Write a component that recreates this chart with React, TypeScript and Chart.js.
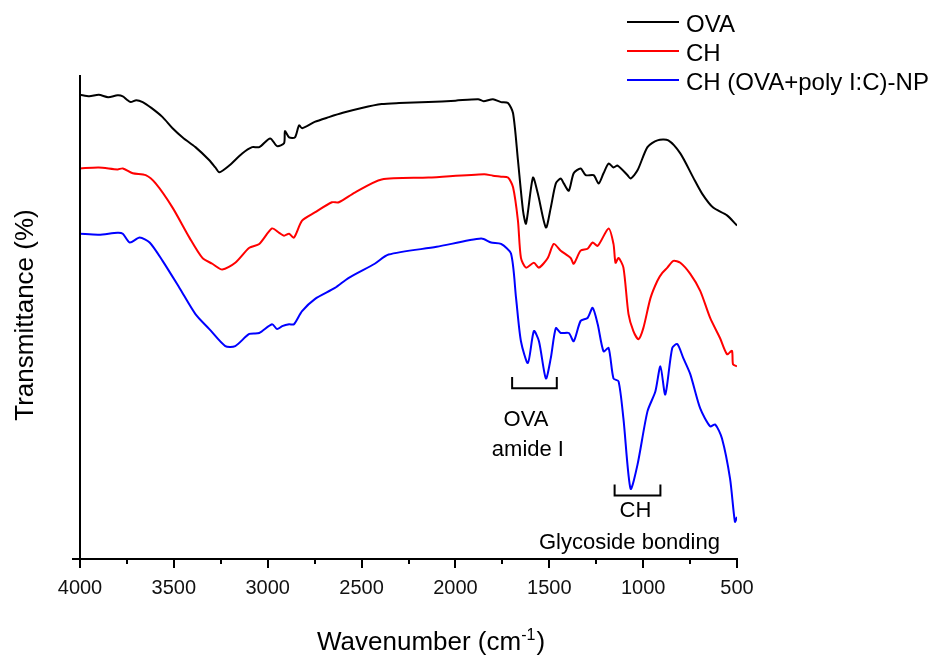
import React, { useEffect, useRef } from 'react';
import { Chart, registerables } from 'chart.js';

Chart.register(...registerables);

const FONT = '"Liberation Sans", Arial, Helvetica, sans-serif';

// ---- Data ----
const seriesNames = ['OVA', 'CH', 'CH (OVA+poly I:C)-NP'];
const seriesColors = ['#000000', '#ff0000', '#0000ff'];

const xTickValues = [4000, 3500, 3000, 2500, 2000, 1500, 1000, 500];
const xTickLabels = ['4000', '3500', '3000', '2500', '2000', '1500', '1000', '500'];
const xMinorTickValues = [3750, 3250, 2750, 2250, 1750, 1250, 750];

const ovaWn = [4000, 3950, 3900, 3850, 3800, 3772, 3750, 3730, 3700, 3666, 3620, 3560, 3507, 3450, 3385, 3311, 3279, 3258, 3205, 3136, 3083, 3045, 2987, 2950, 2913, 2908, 2886, 2855, 2833, 2817, 2750, 2674, 2600, 2499, 2393, 2300, 2144, 2000, 1879, 1850, 1800, 1757, 1720, 1693, 1667, 1640, 1624, 1587, 1561, 1518, 1492, 1465, 1439, 1423, 1396, 1370, 1333, 1306, 1264, 1237, 1211, 1184, 1158, 1136, 1083, 1067, 1030, 977, 924, 866, 802, 733, 686, 627, 553, 500];
const ovaT = [95.9, 95.6, 95.9, 95.4, 95.8, 95.6, 94.9, 94.4, 94.8, 94.4, 93.2, 91.3, 89.0, 87.0, 85.1, 82.4, 80.9, 79.9, 81.3, 83.8, 85.1, 85.1, 86.9, 85.3, 85.9, 88.4, 87.1, 87.1, 89.6, 89.0, 90.3, 91.3, 92.2, 93.2, 94.0, 94.2, 94.4, 94.7, 95.0, 94.6, 95.0, 94.4, 94.2, 92.1, 82.4, 72.0, 69.3, 78.8, 75.5, 68.5, 72.6, 77.6, 78.6, 77.6, 76.1, 79.7, 80.7, 79.3, 79.3, 77.6, 79.7, 81.7, 80.9, 81.3, 79.3, 78.6, 80.3, 85.1, 86.5, 86.5, 83.8, 78.8, 75.5, 72.6, 71.0, 68.9];

const chWn = [4000, 3900, 3800, 3772, 3719, 3650, 3597, 3507, 3417, 3348, 3295, 3242, 3173, 3098, 3045, 2977, 2939, 2913, 2886, 2860, 2817, 2749, 2658, 2621, 2536, 2393, 2144, 1847, 1800, 1757, 1720, 1693, 1667, 1651, 1624, 1582, 1555, 1508, 1476, 1439, 1386, 1370, 1333, 1296, 1269, 1242, 1184, 1158, 1147, 1131, 1105, 1078, 1052, 1025, 999, 961, 924, 898, 871, 839, 802, 749, 696, 643, 590, 553, 527, 521, 500];
const chT = [80.7, 80.9, 80.5, 80.7, 79.7, 79.3, 77.6, 72.6, 66.4, 62.2, 61.0, 59.8, 61.2, 64.3, 65.1, 68.3, 67.4, 66.8, 67.2, 66.4, 69.9, 71.6, 73.7, 73.7, 75.7, 78.4, 78.8, 79.5, 79.2, 79.0, 78.8, 76.8, 69.9, 62.2, 60.2, 61.2, 60.2, 62.2, 65.1, 63.7, 62.2, 61.0, 63.7, 64.1, 65.4, 64.7, 68.3, 65.1, 61.2, 62.2, 60.2, 50.6, 47.1, 45.4, 47.7, 53.9, 57.5, 59.1, 60.2, 61.6, 61.2, 58.9, 55.4, 49.8, 45.6, 42.3, 43.0, 40.2, 39.8];

const npWn = [4000, 3900, 3800, 3772, 3735, 3682, 3629, 3560, 3470, 3385, 3311, 3226, 3173, 3098, 3045, 2977, 2950, 2923, 2886, 2860, 2817, 2749, 2642, 2568, 2430, 2356, 2100, 1863, 1810, 1757, 1704, 1677, 1651, 1614, 1582, 1555, 1518, 1492, 1465, 1439, 1396, 1370, 1333, 1296, 1269, 1242, 1211, 1184, 1158, 1131, 1105, 1067, 1030, 977, 935, 908, 882, 845, 818, 786, 749, 696, 643, 616, 580, 537, 511, 500];
const npT = [67.2, 67.0, 67.4, 67.2, 65.4, 66.4, 65.4, 61.6, 56.0, 50.6, 47.5, 44.0, 44.0, 46.5, 46.7, 48.5, 47.5, 48.1, 48.5, 48.5, 51.2, 53.7, 56.0, 58.1, 61.0, 62.9, 64.5, 66.2, 65.4, 65.1, 63.1, 53.9, 45.0, 40.5, 47.1, 45.0, 37.3, 41.5, 47.7, 46.7, 46.7, 45.0, 49.2, 49.8, 51.9, 48.5, 42.9, 43.6, 37.3, 36.7, 29.0, 14.5, 19.5, 30.5, 34.6, 39.8, 34.0, 43.6, 44.4, 41.5, 38.2, 31.1, 27.4, 27.8, 24.9, 16.6, 7.7, 8.7];

// Annotations (data coordinates: wavenumber, transmittance)
const bracketRanges = [
  { from: 1698, to: 1460, top: 37.6, bottom: 35.3 },
  { from: 1152, to: 908, top: 15.4, bottom: 13.1 },
];
const annotationTexts = [
  { text: 'OVA', x: 1624, y: 27.4 },
  { text: 'amide I', x: 1614, y: 21.2 },
  { text: 'CH', x: 1041, y: 8.7 },
  { text: 'Glycoside bonding', x: 1073, y: 2.1 },
];

const toPoints = (xs: number[], ys: number[]) => xs.map((x, i) => ({ x, y: ys[i] }));

const decorPlugin = {
  id: 'decor',
  afterDraw(chart: any) {
    const ctx: CanvasRenderingContext2D = chart.ctx;
    const { left, right, top, bottom } = chart.chartArea;
    const xs = chart.scales.x;
    const ys = chart.scales.y;
    ctx.save();
    ctx.strokeStyle = '#000';
    ctx.fillStyle = '#000';
    ctx.lineWidth = 2;
    // axes
    ctx.beginPath();
    ctx.moveTo(left, top);
    ctx.lineTo(left, bottom);
    ctx.moveTo(left - 8, bottom);
    ctx.lineTo(right + 1, bottom);
    ctx.stroke();
    // ticks
    ctx.beginPath();
    xTickValues.forEach((v) => {
      const px = Math.round(xs.getPixelForValue(v));
      ctx.moveTo(px, bottom);
      ctx.lineTo(px, bottom + 9);
    });
    xMinorTickValues.forEach((v) => {
      const px = Math.round(xs.getPixelForValue(v));
      ctx.moveTo(px, bottom);
      ctx.lineTo(px, bottom + 5);
    });
    ctx.stroke();

    // y title
    ctx.save();
    ctx.font = `26px ${FONT}`;
    ctx.textAlign = 'center';
    ctx.textBaseline = 'alphabetic';
    ctx.translate(33, (top + bottom) / 2 - 2);
    ctx.rotate(-Math.PI / 2);
    ctx.fillText('Transmittance (%)', 0, 0);
    ctx.restore();

    // x title with superscript
    ctx.textAlign = 'left';
    ctx.textBaseline = 'alphabetic';
    const main = 'Wavenumber (cm';
    const sup = '-1';
    const close = ')';
    ctx.font = `26px ${FONT}`;
    const wMain = ctx.measureText(main).width;
    const wClose = ctx.measureText(close).width;
    ctx.font = `16px ${FONT}`;
    const wSup = ctx.measureText(sup).width;
    const total = wMain + wSup + wClose + 1;
    let tx = 431 - total / 2;
    const by = 650;
    ctx.font = `26px ${FONT}`;
    ctx.fillText(main, tx, by);
    tx += wMain;
    ctx.font = `16px ${FONT}`;
    ctx.fillText(sup, tx, by - 10);
    tx += wSup + 1;
    ctx.font = `26px ${FONT}`;
    ctx.fillText(close, tx, by);

    // legend
    ctx.font = `24px ${FONT}`;
    chart.data.datasets.forEach((ds: any, i: number) => {
      const ly = 22 + i * 29;
      ctx.strokeStyle = ds.borderColor;
      ctx.lineWidth = 2;
      ctx.beginPath();
      ctx.moveTo(627, ly);
      ctx.lineTo(679, ly);
      ctx.stroke();
      ctx.fillStyle = '#000';
      ctx.fillText(ds.label, 686, ly + 10);
    });

    // annotations
    ctx.strokeStyle = '#000';
    ctx.lineWidth = 2;
    bracketRanges.forEach((b) => {
      const x1 = xs.getPixelForValue(b.from);
      const x2 = xs.getPixelForValue(b.to);
      const y1 = ys.getPixelForValue(b.top);
      const y2 = ys.getPixelForValue(b.bottom);
      ctx.beginPath();
      ctx.moveTo(x1, y1);
      ctx.lineTo(x1, y2);
      ctx.lineTo(x2, y2);
      ctx.lineTo(x2, y1);
      ctx.stroke();
    });
    ctx.font = `22px ${FONT}`;
    ctx.textAlign = 'center';
    ctx.fillStyle = '#000';
    annotationTexts.forEach((a) => {
      ctx.fillText(a.text, xs.getPixelForValue(a.x), ys.getPixelForValue(a.y));
    });
    ctx.restore();
  },
};

export default function App() {
  const canvasRef = useRef<HTMLCanvasElement | null>(null);

  useEffect(() => {
    document.body.style.margin = '0';
    const canvas = canvasRef.current;
    if (!canvas) return;
    const seriesX = [ovaWn, chWn, npWn];
    const seriesY = [ovaT, chT, npT];
    const chart = new Chart(canvas, {
      type: 'line',
      data: {
        datasets: seriesNames.map((name, i) => ({
          label: name,
          data: toPoints(seriesX[i], seriesY[i]),
          borderColor: seriesColors[i],
          backgroundColor: seriesColors[i],
          borderWidth: 2,
          pointRadius: 0,
          tension: 0.25,
          fill: false,
        })),
      },
      options: {
        responsive: false,
        animation: false,
        devicePixelRatio: 1,
        layout: { padding: { left: 80, right: 204, top: 75, bottom: 0 } },
        plugins: {
          legend: { display: false },
          tooltip: { enabled: false },
          title: { display: false },
        },
        scales: {
          x: {
            type: 'linear',
            reverse: true,
            min: 500,
            max: 4000,
            grid: { display: false, drawTicks: false },
            border: { display: false },
            afterFit: (s: any) => {
              s.height = 101;
            },
            afterBuildTicks: (s: any) => {
              s.ticks = xTickValues.map((v) => ({ value: v }));
            },
            ticks: {
              padding: 17,
              color: '#111',
              font: { family: FONT, size: 20 },
              maxRotation: 0,
              autoSkip: false,
              callback: (v: any) => {
                const idx = xTickValues.indexOf(Number(v));
                return idx >= 0 ? xTickLabels[idx] : '';
              },
            },
          },
          y: {
            display: false,
            min: 0,
            max: 100,
          },
        },
      },
      plugins: [decorPlugin],
    });
    return () => chart.destroy();
  }, []);

  return (
    <div style={{ width: 941, height: 660, background: '#fff' }}>
      <canvas ref={canvasRef} width={941} height={660} style={{ display: 'block' }} />
    </div>
  );
}
